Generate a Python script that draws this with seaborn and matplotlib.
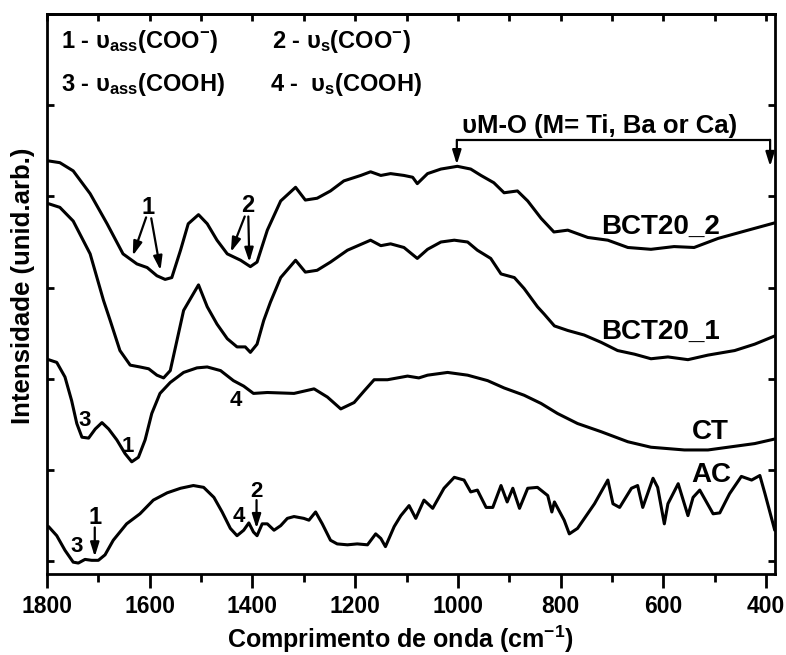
import matplotlib
matplotlib.use('Agg')
import matplotlib.pyplot as plt
import seaborn as sns
import pandas as pd

# ---------------- data (wavenumber cm-1, intensity arb. units, offset) ----------------
wn_bct2 = [1798, 1775, 1749, 1716, 1683, 1652, 1625, 1605, 1586, 1570, 1557, 1540, 1525, 1505, 1488,
           1469, 1449, 1423, 1404, 1391, 1371, 1345, 1316, 1297, 1274, 1248, 1222, 1189, 1170, 1150,
           1131, 1105, 1088, 1079, 1059, 1033, 1001, 975, 955, 930, 910, 884, 864, 838, 813,
           786, 747, 708, 669, 624, 579, 540, 493, 435, 383]
int_bct2 = [4.39, 4.37, 4.28, 4.03, 3.70, 3.37, 3.26, 3.22, 3.13, 3.09, 3.11, 3.41, 3.70, 3.80, 3.70,
            3.52, 3.37, 3.30, 3.23, 3.28, 3.63, 3.95, 4.10, 3.96, 3.98, 4.06, 4.17, 4.23, 4.27, 4.23,
            4.25, 4.23, 4.21, 4.14, 4.25, 4.30, 4.33, 4.30, 4.23, 4.15, 4.04, 4.06, 3.95, 3.76, 3.61,
            3.63, 3.55, 3.52, 3.44, 3.42, 3.45, 3.44, 3.54, 3.63, 3.71]

wn_bct1 = [1797, 1775, 1749, 1716, 1690, 1677, 1658, 1638, 1619, 1602, 1586, 1573, 1560, 1547, 1534,
           1505, 1488, 1469, 1449, 1430, 1414, 1404, 1391, 1378, 1365, 1345, 1316, 1297, 1274, 1248,
           1215, 1170, 1150, 1131, 1105, 1079, 1059, 1033, 1007, 981, 962, 936, 916, 890, 871,
           845, 832, 812, 786, 754, 721, 689, 656, 624, 591, 552, 513, 461, 422, 383]
int_bct1 = [3.92, 3.88, 3.73, 3.37, 2.86, 2.64, 2.31, 2.15, 2.13, 2.11, 2.04, 2.01, 2.09, 2.42, 2.75,
            3.03, 2.79, 2.60, 2.44, 2.35, 2.35, 2.29, 2.38, 2.64, 2.84, 3.11, 3.30, 3.17, 3.19, 3.28,
            3.41, 3.52, 3.46, 3.48, 3.44, 3.32, 3.42, 3.50, 3.52, 3.50, 3.41, 3.32, 3.15, 3.11, 2.99,
            2.79, 2.71, 2.58, 2.53, 2.48, 2.40, 2.31, 2.27, 2.22, 2.24, 2.21, 2.26, 2.31, 2.38, 2.47]

wn_ct = [1797, 1781, 1765, 1752, 1742, 1732, 1719, 1706, 1693, 1680, 1664, 1648, 1635, 1622, 1609,
         1596, 1580, 1560, 1534, 1508, 1488, 1462, 1437, 1417, 1398, 1371, 1319, 1280, 1254, 1228,
         1202, 1182, 1163, 1137, 1098, 1076, 1059, 1020, 981, 942, 910, 871, 838, 806, 767,
         721, 669, 624, 559, 513, 461, 422, 383]
int_ct = [2.21, 2.18, 2.02, 1.76, 1.51, 1.36, 1.35, 1.45, 1.52, 1.45, 1.33, 1.18, 1.09, 1.14, 1.33,
          1.62, 1.84, 1.96, 2.07, 2.12, 2.13, 2.09, 1.98, 1.92, 1.84, 1.85, 1.84, 1.89, 1.80, 1.67,
          1.74, 1.87, 1.99, 1.99, 2.03, 2.01, 2.04, 2.07, 2.04, 1.98, 1.90, 1.82, 1.73, 1.62, 1.51,
          1.42, 1.31, 1.25, 1.22, 1.22, 1.26, 1.29, 1.34]

wn_ac = [1797, 1781, 1765, 1749, 1739, 1726, 1713, 1700, 1687, 1671, 1645, 1619, 1593, 1566, 1540,
         1515, 1495, 1475, 1459, 1443, 1430, 1417, 1407, 1398, 1391, 1381, 1371, 1358, 1345, 1332,
         1319, 1300, 1290, 1277, 1264, 1248, 1235, 1215, 1196, 1176, 1160, 1150, 1141, 1124, 1111,
         1095, 1082, 1066, 1049, 1027, 1007, 988, 975, 962, 945, 932, 916, 904, 893, 880,
         864, 845, 825, 817, 812, 793, 783, 767, 734, 708, 698, 685, 662, 650, 640,
         620, 611, 598, 591, 571, 552, 542, 529, 503, 490, 471, 448, 428, 412, 402, 383]
int_ac = [0.38, 0.28, 0.12, -0.01, -0.02, 0.02, 0.01, 0.01, 0.07, 0.23, 0.41, 0.52, 0.67, 0.75, 0.80,
          0.83, 0.81, 0.70, 0.54, 0.36, 0.28, 0.34, 0.42, 0.32, 0.28, 0.41, 0.41, 0.34, 0.39, 0.47,
          0.49, 0.47, 0.45, 0.54, 0.41, 0.23, 0.19, 0.18, 0.19, 0.18, 0.30, 0.25, 0.16, 0.38, 0.50,
          0.61, 0.47, 0.67, 0.58, 0.80, 0.92, 0.89, 0.76, 0.78, 0.59, 0.59, 0.83, 0.65, 0.80, 0.58,
          0.80, 0.81, 0.72, 0.54, 0.65, 0.45, 0.30, 0.36, 0.63, 0.89, 0.63, 0.59, 0.80, 0.83, 0.59,
          0.91, 0.81, 0.41, 0.63, 0.85, 0.50, 0.70, 0.78, 0.52, 0.53, 0.74, 0.93, 0.89, 0.94, 0.74, 0.34]

series_names = ["BCT20_2", "BCT20_1", "CT", "AC"]
x_ticks = [1800, 1600, 1400, 1200, 1000, 800, 600, 400]
x_minor = [1700, 1500, 1300, 1100, 900, 700, 500]

# ---------------- style ----------------
sns.set_theme(style="ticks")
plt.rcParams['font.family'] = ['Liberation Sans', 'DejaVu Sans']
plt.rcParams['font.weight'] = 'bold'
plt.rcParams['mathtext.default'] = 'regular'
plt.rcParams['axes.linewidth'] = 2.0
for key in ['text.color', 'axes.labelcolor', 'xtick.color', 'ytick.color', 'axes.edgecolor']:
    plt.rcParams[key] = 'black'

fig = plt.figure(figsize=(7.86, 6.55), dpi=100)
ax = fig.add_axes([47 / 786, 1 - 574 / 655, (775 - 47) / 786, (574 - 14) / 655])

frames = []
for name, w, v in zip(series_names, [wn_bct2, wn_bct1, wn_ct, wn_ac],
                      [int_bct2, int_bct1, int_ct, int_ac]):
    frames.append(pd.DataFrame({"wn": w, "I": v, "sample": name}))
df = pd.concat(frames, ignore_index=True)

for name in series_names:
    sub = df[df["sample"] == name]
    sns.lineplot(data=sub, x="wn", y="I", ax=ax, color="black", linewidth=2.2,
                 sort=False, estimator=None, legend=False,
                 solid_joinstyle='round', solid_capstyle='round')

ax.set_xlim(1800, 382.5)
ax.set_ylim(-0.14, 6.0)
ax.set_xticks(x_ticks)
ax.set_xticks(x_minor, minor=True)
ax.set_yticks(range(0, 7))
ax.set_yticklabels([])
ax.tick_params(axis='x', which='major', direction='out', length=10, width=2,
               labelsize=16.5, pad=5, top=False, colors='black')
ax.tick_params(axis='x', which='minor', direction='out', length=6, width=2, top=False)
ax.tick_params(axis='y', which='major', direction='in', length=5, width=2,
               left=True, right=True, labelleft=False)
for lab in ax.get_xticklabels():
    lab.set_fontweight('bold')

top = ax.secondary_xaxis('top')
top.set_xticks(x_ticks)
top.set_xticks(x_minor, minor=True)
top.tick_params(which='both', direction='in', length=5, width=2, labeltop=False)
top.spines['top'].set_linewidth(2.0)

for s in ax.spines.values():
    s.set_linewidth(2.0)
    s.set_color('black')

ax.set_xlabel("Comprimento de onda (cm$^{-1}$)", fontsize=18, fontweight='bold')
ax.xaxis.set_label_coords(0.485, -0.088)
ax.set_ylabel("Intensidade (unid.arb.)", fontsize=18.5, fontweight='bold')
ax.yaxis.set_label_coords(-0.016, 0.514)

# ---------------- legend-like text ----------------
fs_leg = 17
ax.text(1773, 5.63, "1 - υ$_{ass}$(COO$^{-}$)", fontsize=fs_leg, fontweight='bold', va='baseline')
ax.text(1362, 5.63, "2 - υ$_{s}$(COO$^{-}$)", fontsize=fs_leg, fontweight='bold', va='baseline')
ax.text(1773, 5.16, "3 - υ$_{ass}$(COOH)", fontsize=fs_leg, fontweight='bold', va='baseline')
ax.text(1366, 5.16, "4 -  υ$_{s}$(COOH)", fontsize=fs_leg, fontweight='bold', va='baseline')

# M-O bracket
ax.text(992, 4.69, "υM-O (M= Ti, Ba or Ca)", fontsize=18.5, fontweight='bold', va='baseline')
ax.plot([1002, 392], [4.62, 4.62], color='black', lw=1.6, clip_on=False)
arrow = dict(arrowstyle='-|>,head_length=0.7,head_width=0.22', color='black', lw=1.6,
             shrinkA=0, shrinkB=0)
ax.annotate('', xy=(1002, 4.35), xytext=(1002, 4.62), arrowprops=arrow)
ax.annotate('', xy=(392, 4.33), xytext=(392, 4.62), arrowprops=arrow)

# curve labels
fs_lab = 20
ax.text(606, 3.67, "BCT20_2", fontsize=fs_lab, fontweight='bold', ha='center', va='center')
ax.text(606, 2.51, "BCT20_1", fontsize=fs_lab, fontweight='bold', ha='center', va='center')
ax.text(509, 1.42, "CT", fontsize=fs_lab, fontweight='bold', ha='center', va='center')
ax.text(506, 0.94, "AC", fontsize=fs_lab, fontweight='bold', ha='center', va='center')

# band markers
ax.text(1603, 3.88, "1", fontsize=17, fontweight='bold', ha='center', va='center')
ax.annotate('', xy=(1633, 3.35), xytext=(1607, 3.77), arrowprops=arrow)
ax.annotate('', xy=(1579, 3.19), xytext=(1597, 3.76), arrowprops=arrow)
ax.text(1410, 3.90, "2", fontsize=17, fontweight='bold', ha='center', va='center')
ax.annotate('', xy=(1442, 3.39), xytext=(1415, 3.78), arrowprops=arrow)
ax.annotate('', xy=(1406, 3.28), xytext=(1408, 3.78), arrowprops=arrow)

fs_num = 16
ax.text(1726, 1.54, "3", fontsize=fs_num, fontweight='bold', ha='center', va='center')
ax.text(1642, 1.26, "1", fontsize=fs_num, fontweight='bold', ha='center', va='center')
ax.text(1432, 1.76, "4", fontsize=fs_num, fontweight='bold', ha='center', va='center')

ax.text(1742, 0.16, "3", fontsize=fs_num, fontweight='bold', ha='center', va='center')
ax.text(1707, 0.48, "1", fontsize=17, fontweight='bold', ha='center', va='center')
ax.annotate('', xy=(1707, 0.05), xytext=(1707, 0.37), arrowprops=arrow)
ax.text(1426, 0.49, "4", fontsize=fs_num, fontweight='bold', ha='center', va='center')
ax.text(1392, 0.77, "2", fontsize=fs_num, fontweight='bold', ha='center', va='center')
ax.annotate('', xy=(1392, 0.36), xytext=(1392, 0.67), arrowprops=arrow)

fig.savefig("out.png", dpi=100)
